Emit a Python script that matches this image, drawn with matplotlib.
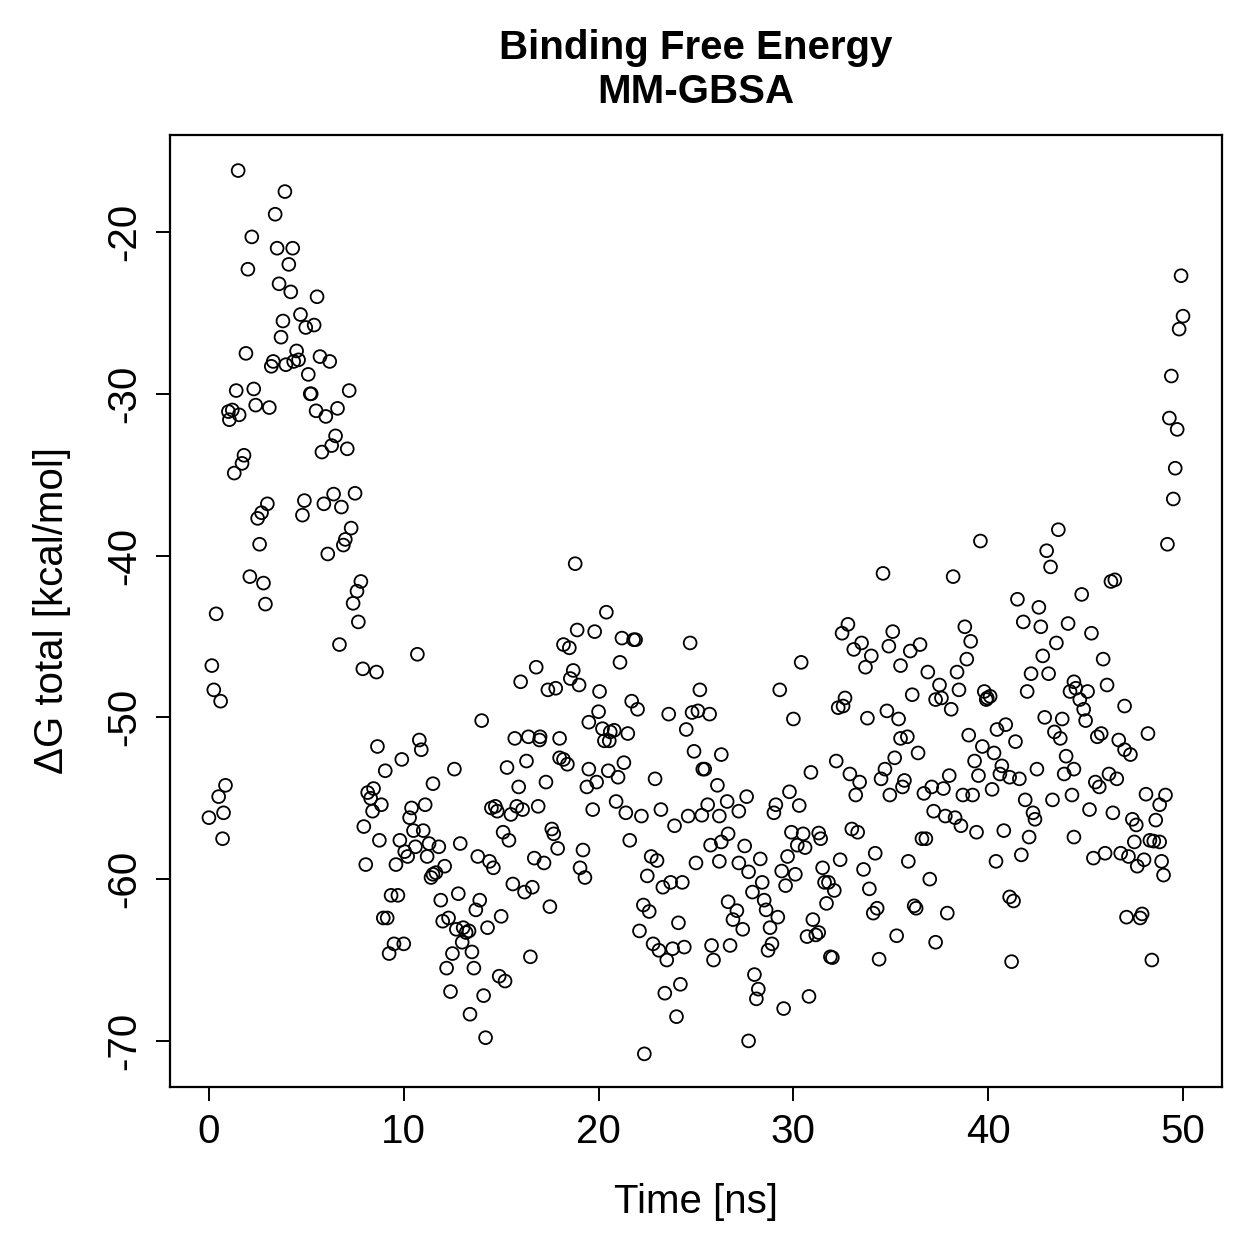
import numpy as np
import matplotlib
matplotlib.use("Agg")
import matplotlib.pyplot as plt

# time [ns] and dG total [kcal/mol]
time_ns = [
    0.0, 0.15, 0.25, 0.37, 0.5, 0.6, 0.7, 0.75, 0.85,
    1.0, 1.05, 1.2, 1.3, 1.4, 1.5, 1.55, 1.7, 1.8, 1.9, 2.0, 2.1, 2.2, 2.3, 2.4, 2.5, 2.6, 2.7, 2.8, 2.9,
    3.0, 3.1, 3.2, 3.3, 3.4, 3.5, 3.6, 3.7, 3.8, 3.9, 3.95, 4.1, 4.2, 4.3, 4.35, 4.5, 4.6, 4.7, 4.8, 4.9, 4.97,
    5.1, 5.2, 5.25, 5.4, 5.5, 5.55, 5.7, 5.8, 5.9, 6.0, 6.1, 6.2, 6.3, 6.4, 6.5, 6.6, 6.7, 6.8, 6.9,
    7.0, 7.1, 7.2, 7.3, 7.4, 7.5, 7.6, 7.67, 7.8, 7.9, 7.95, 8.05, 8.15, 8.3, 8.4, 8.45, 8.6, 8.65, 8.75, 8.85, 8.95,
    9.05, 9.15, 9.25, 9.35, 9.5, 9.6, 9.7, 9.8, 9.9, 10.0,
    10.05, 10.2, 10.3, 10.4, 10.5, 10.6, 10.7, 10.8, 10.9, 11.0, 11.1, 11.2, 11.3, 11.4, 11.5, 11.5, 11.65, 11.8, 11.9,
    12.0, 12.1, 12.2, 12.3, 12.4, 12.5, 12.6, 12.7, 12.8, 12.9, 13.0, 13.05, 13.2, 13.35, 13.4, 13.5, 13.6, 13.7, 13.8, 13.9,
    14.0, 14.1, 14.2, 14.3, 14.4, 14.5, 14.6, 14.7, 14.8, 14.9, 15.0, 15.1, 15.2, 15.3, 15.4, 15.5, 15.6, 15.7, 15.8, 15.9,
    16.0, 16.1, 16.2, 16.3, 16.4, 16.5, 16.6, 16.7, 16.8, 16.9, 16.97, 17.0, 17.2, 17.3, 17.4, 17.5, 17.6, 17.7, 17.8, 17.9,
    18.0, 18.0, 18.2, 18.2,
    18.4, 18.5, 18.55, 18.7, 18.8, 18.9, 19.0, 19.05, 19.2, 19.3, 19.4, 19.5, 19.5, 19.7, 19.8, 19.9,
    20.0, 20.05, 20.2, 20.3, 20.4, 20.5, 20.55, 20.6, 20.8, 20.9, 21.0, 21.1, 21.2, 21.3, 21.4, 21.5, 21.6, 21.7, 21.8, 21.9,
    22.0, 22.1, 22.2, 22.3, 22.35, 22.5, 22.6, 22.7, 22.8, 22.9, 23.0, 23.1, 23.2, 23.3, 23.4, 23.5, 23.6, 23.7, 23.8, 23.9,
    24.0, 24.1, 24.2, 24.3, 24.4, 24.5, 24.6, 24.7, 24.8, 24.9, 25.0, 25.1, 25.2, 25.3, 25.35, 25.45, 25.6, 25.7, 25.75, 25.8, 25.9,
    26.1, 26.2, 26.2, 26.3, 26.3, 26.6, 26.65, 26.65, 26.75, 26.9,
    27.2, 27.6, 27.5, 27.2, 27.7, 28.3, 29.9, 30.5, 31.3, 31.4, 30.2, 30.6, 29.7, 32.4, 34.2, 31.5, 31.6, 31.8, 32.1, 31.7,
    33.6, 33.9, 34.3, 34.1, 29.4, 30.1, 29.6, 27.9, 28.4, 28.5, 28.6, 29.2, 28.8, 27.1, 27.4, 28.9, 28.7, 31.0, 30.7, 31.15,
    31.3, 31.9, 32.0, 34.4, 35.3, 28.0, 28.2, 28.1, 29.5, 30.8, 27.7,
    34.6, 32.8, 32.5, 35.1, 34.9, 33.5, 33.1, 34.0, 33.7, 35.5, 30.4, 29.3, 30.0, 32.3, 32.65, 32.55, 33.8, 34.8, 35.4, 35.5,
    32.2, 32.9, 33.4, 33.2, 35.2, 34.7, 34.5, 34.95, 35.6, 30.9, 29.8, 29.1, 29.0, 30.3, 33.0, 33.3,
    43.6, 39.6, 43.0, 43.2, 38.2, 41.5, 42.6, 41.8, 42.7, 44.1, 38.8, 39.1, 38.9, 38.4, 38.5, 43.5, 42.8, 42.2, 43.1,
    36.5, 36.0, 36.9, 37.5, 37.6, 37.3, 38.1, 36.1, 39.8, 39.95, 40.1, 39.9, 42.0, 44.2, 44.4,
    39.0, 39.7, 40.3, 39.3, 39.5, 40.2, 40.45, 40.9, 41.4, 35.85, 36.4, 35.7, 42.9, 43.8, 43.4, 43.7, 44.0, 43.9, 44.4, 44.3,
    43.3, 42.5, 40.7, 40.6, 41.1, 41.6, 38.0, 37.1, 36.7, 37.7, 38.7, 39.2, 41.9, 42.3, 42.4, 37.2, 37.8, 38.3, 38.6, 39.4,
    40.8, 42.1, 41.7, 40.4, 36.6, 36.8, 35.9, 37.0, 44.4, 36.2, 36.3, 37.9, 37.3, 41.1, 41.3, 41.2,
    49.9, 50.0, 49.8, 49.4, 49.3, 49.7, 49.6, 49.5, 49.2, 46.3, 46.5, 44.8, 45.3,
    47.0, 45.9, 46.1, 44.5, 44.7, 45.1, 44.9, 45.0, 48.2, 45.6, 45.8, 46.7, 47.0, 47.3, 45.5, 45.7, 46.2, 46.6, 45.2, 46.4,
    48.1, 49.1, 48.8, 48.6, 47.4, 47.6, 47.5, 48.3, 48.5, 48.8, 45.4, 46.0, 46.8, 47.2, 47.65, 48.0, 48.9, 49.0,
    47.1, 47.8, 47.9, 48.4,
]

dg_total = [
    -56.2, -46.8, -48.3, -43.6, -54.9, -49.0, -57.5, -55.9, -54.2,
    -31.1, -31.6, -31.0, -34.9, -29.8, -16.2, -31.3, -34.3, -33.8, -27.5, -22.3, -41.3, -20.3, -29.7, -30.7, -37.7, -39.3, -37.35, -41.7, -43.0,
    -36.8, -30.85, -28.3, -28.0, -18.9, -21.0, -23.2, -26.5, -25.5, -17.5, -28.2, -22.0, -23.7, -21.0, -28.0, -27.35, -27.9, -25.1, -37.5, -36.6, -25.9,
    -28.8, -30.0, -30.0, -25.75, -31.05, -24.0, -27.7, -33.6, -36.8, -31.4, -39.9, -28.0, -33.2, -36.2, -32.6, -30.9, -45.5, -37.0, -39.35,
    -39.0, -33.4, -29.8, -38.3, -42.95, -36.15, -42.2, -44.1, -41.6, -47.0, -56.75, -59.1, -54.65, -55.0, -55.8, -54.4, -47.2, -51.8, -57.6, -55.4, -62.4,
    -53.3, -62.4, -64.6, -61.0, -64.0, -59.1, -61.0, -57.6, -52.6, -64.0,
    -58.3, -58.6, -56.2, -55.6, -57.0, -58.0, -46.1, -51.4, -52.0, -57.0, -55.4, -58.6, -57.8, -59.9, -59.7, -54.1, -59.6, -58.0, -61.3,
    -62.6, -59.2, -65.5, -62.4, -66.95, -64.6, -53.2, -63.1, -60.9, -57.8, -63.9, -63.0, -63.3, -63.2, -68.35, -64.5, -65.5, -61.9, -58.6, -61.3,
    -50.2, -67.2, -69.8, -63.0, -58.9, -55.6, -59.3, -55.5, -55.8, -66.0, -62.3, -57.1, -66.3, -53.1, -57.6, -56.0, -60.3, -51.3, -55.5, -54.3,
    -47.8, -55.7, -60.8, -52.7, -51.2, -64.8, -60.5, -58.7, -46.9, -55.5, -51.4, -51.2, -59.0, -54.0, -48.3, -61.7, -56.9, -57.2, -48.2, -58.1,
    -51.3, -52.5, -45.5, -52.6,
    -52.9, -45.7, -47.6, -47.1, -40.5, -44.6, -48.0, -59.3, -58.2, -59.9, -54.3, -53.2, -50.3, -55.7, -44.7, -54.0,
    -49.65, -48.4, -50.7, -51.45, -43.5, -53.3, -51.45, -50.9, -50.8, -55.2, -53.7, -46.6, -45.1, -52.8, -55.9, -51.0, -57.6, -49.0, -45.2, -45.2,
    -49.5, -63.2, -56.1, -61.6, -70.8, -59.8, -62.0, -58.6, -64.0, -53.8, -58.85, -64.4, -55.7, -60.5, -67.05, -65.0, -49.8, -60.2, -64.3, -56.7,
    -68.5, -62.7, -66.5, -60.2, -64.2, -50.75, -56.1, -45.4, -49.7, -52.1, -59.0, -49.6, -48.3, -56.05, -53.2, -53.2, -55.4, -49.8, -57.9, -64.1, -65.0,
    -54.2, -58.9, -56.1, -52.3, -57.7, -55.2, -57.2, -61.4, -64.1, -62.5,
    -55.8, -54.9, -57.95, -59.0, -59.55, -58.75, -57.1, -57.2, -57.15, -57.5, -57.9, -58.05, -58.6, -58.8, -58.4, -59.3, -60.2, -60.2, -60.7, -61.5,
    -59.4, -60.6, -61.8, -62.1, -59.5, -59.7, -60.4, -60.8, -60.2, -61.3, -61.9, -62.35, -63.0, -61.95, -63.1, -64.0, -64.4, -62.5, -63.55, -63.45,
    -63.3, -64.8, -64.85, -64.95, -63.5, -65.9, -66.8, -67.4, -68.0, -67.25, -70.0,
    -41.1, -44.25, -44.8, -44.7, -45.6, -45.4, -45.8, -46.2, -46.9, -46.8, -46.6, -48.3, -50.1, -49.4, -48.8, -49.3, -50.05, -49.6, -50.1, -51.3,
    -52.7, -53.5, -54.0, -54.8, -52.5, -53.2, -53.8, -54.8, -54.3, -53.4, -54.6, -55.4, -55.9, -55.45, -56.9, -57.1,
    -38.4, -39.1, -39.7, -40.7, -41.3, -42.7, -43.2, -44.1, -44.4, -44.2, -44.4, -45.3, -46.4, -47.2, -48.3, -45.4, -46.2, -47.3, -47.3,
    -45.5, -45.9, -47.2, -48.0, -48.8, -48.9, -49.5, -48.6, -48.4, -48.8, -48.7, -48.9, -48.4, -48.4, -47.8,
    -51.1, -51.8, -52.2, -52.7, -53.6, -54.45, -50.75, -50.45, -51.5, -51.2, -52.2, -53.9, -50.0, -50.1, -50.9, -51.3, -52.4, -53.5, -53.2, -54.8,
    -55.1, -53.2, -53.0, -53.5, -53.7, -53.8, -53.6, -54.3, -54.7, -54.4, -54.8, -54.8, -55.1, -55.9, -56.3, -55.8, -56.1, -56.2, -56.7, -57.1,
    -57.0, -57.4, -58.5, -58.9, -57.5, -57.5, -58.9, -60.0, -57.4, -61.65, -61.8, -62.1, -63.9, -61.1, -61.35, -65.1,
    -22.7, -25.2, -26.0, -28.9, -31.5, -32.2, -34.6, -36.5, -39.3, -41.6, -41.5, -42.4, -44.8,
    -49.3, -46.4, -48.0, -48.2, -48.9, -48.4, -49.5, -50.2, -51.0, -51.2, -51.0, -51.4, -52.0, -52.3, -54.0, -54.3, -53.5, -53.8, -55.7, -55.9,
    -54.75, -54.8, -55.4, -56.35, -56.3, -56.65, -57.7, -57.6, -57.65, -57.7, -58.7, -58.4, -58.4, -58.6, -59.2, -58.8, -58.9, -59.75,
    -62.35, -62.4, -62.15, -65.0,
]

x_ticks = [0, 10, 20, 30, 40, 50]
y_ticks = [-70, -60, -50, -40, -30, -20]

plt.rcParams['font.family'] = ['Liberation Sans', 'DejaVu Sans']

fig = plt.figure(figsize=(12.59, 12.59), dpi=100)
ax = fig.add_axes([0.135, 0.1366, 0.8356, 0.7562])

ax.scatter(time_ns, dg_total, s=85, facecolors='none', edgecolors='black', linewidths=1.3)

ax.set_xlim(-2, 52)
ax.set_ylim(-72.85, -14.0)
ax.set_xticks(x_ticks)
ax.set_yticks(y_ticks)
ax.set_xticklabels([str(v) for v in x_ticks])
ax.set_yticklabels([str(v) for v in y_ticks], rotation=90, va='center')
ax.tick_params(axis='both', direction='out', length=10, width=1.4, labelsize=29, pad=9)
for sp in ax.spines.values():
    sp.set_linewidth(1.6)

# labels and title placed in figure coords to match the reference layout
fig.text(0.5528, 0.0453, 'Time [ns]', fontsize=29, ha='center', va='center')
fig.text(0.0413, 0.5147, 'ΔG total [kcal/mol]', fontsize=29, ha='center', va='center', rotation=90)
fig.text(0.5528, 0.9444, 'Binding Free Energy\nMM-GBSA', fontsize=29, fontweight='bold',
         ha='center', va='center', linespacing=1.2)

fig.savefig('out.png', dpi=100)
